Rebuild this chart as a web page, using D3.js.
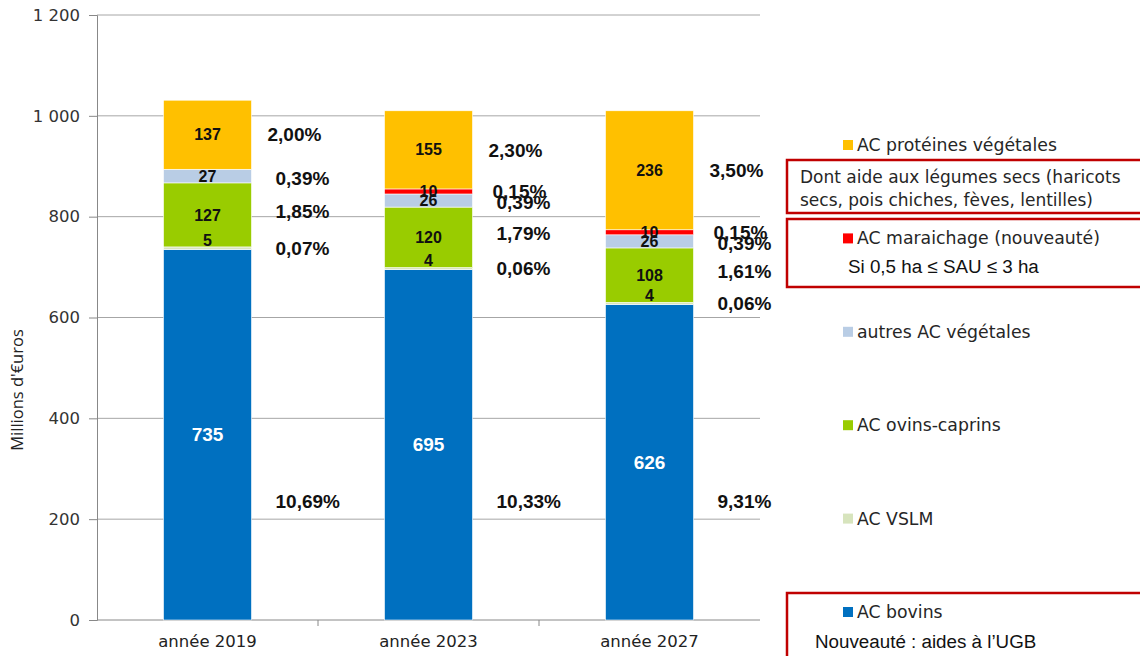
<!DOCTYPE html>
<html>
<head>
<meta charset="utf-8">
<script src="https://cdn.jsdelivr.net/npm/d3@7"></script>
<style>
  body { margin: 0; background: #fff; }
  svg { display: block; }
</style>
</head>
<body>
<div id="chart"></div>
<script>
// categories and series
const years = ["année 2019", "année 2023", "année 2027"];
const seriesNames = ["AC bovins", "AC VSLM", "AC ovins-caprins", "autres AC végétales", "AC maraichage (nouveauté)", "AC protéines végétales"];
const seriesColors = ["#0070C0", "#D7E4BD", "#99CC00", "#B9CDE5", "#FF0000", "#FFC000"];

const bovins = [735, 695, 626];
const vslm = [5, 4, 4];
const ovins = [127, 120, 108];
const autres = [27, 26, 26];
const maraichage = [0, 10, 10];
const proteines = [137, 155, 236];

// percentages written beside the bars
const bovinsPct = ["10,69%", "10,33%", "9,31%"];
const vslmPct = ["0,07%", "0,06%", "0,06%"];
const ovinsPct = ["1,85%", "1,79%", "1,61%"];
const autresPct = ["0,39%", "0,39%", "0,39%"];
const maraichagePct = [null, "0,15%", "0,15%"];
const proteinesPct = ["2,00%", "2,30%", "3,50%"];

const yTicks = [0, 200, 400, 600, 800, 1000, 1200];

const allValues = [bovins, vslm, ovins, autres, maraichage, proteines];
const allPct = [bovinsPct, vslmPct, ovinsPct, autresPct, maraichagePct, proteinesPct];

const W = 1140, H = 656;
const plotL = 97, plotR = 760, plotT = 15, plotB = 620;

const svg = d3.select("#chart").append("svg").attr("width", W).attr("height", H);

const x = d3.scaleBand().domain(years).range([plotL, plotR]).paddingInner(0).paddingOuter(0);
const y = d3.scaleLinear().domain([0, 1200]).range([plotB, plotT]);
const barW = 88;

// table for d3.stack
const rows = years.map((yr, i) => {
  const r = { year: yr };
  seriesNames.forEach((s, k) => r[s] = allValues[k][i]);
  return r;
});
const stacked = d3.stack().keys(seriesNames)(rows);

// gridlines
svg.append("g").selectAll("line").data(yTicks.filter(d => d > 0)).enter().append("line")
  .attr("x1", plotL).attr("x2", plotR)
  .attr("y1", d => y(d)).attr("y2", d => y(d))
  .attr("stroke", "#a6a6a6").attr("stroke-width", 1);

// y axis
const fmt = d3.format(",");
const yAxis = svg.append("g").attr("transform", "translate(" + plotL + ",0)")
  .call(d3.axisLeft(y).tickValues(yTicks).tickSize(8).tickPadding(9).tickFormat(d => fmt(d).replace(",", " ")));
yAxis.select(".domain").attr("stroke", "#888");
yAxis.selectAll(".tick line").attr("stroke", "#888");
yAxis.selectAll("text").attr("font-family", "DejaVu Sans, Verdana, sans-serif").attr("font-size", 16.5).attr("fill", "#333");

// x axis
const xAxis = svg.append("g").attr("transform", "translate(0," + plotB + ")");
xAxis.append("line").attr("x1", plotL).attr("x2", plotR).attr("stroke", "#888");
xAxis.selectAll(".sep").data(years.slice(1)).enter().append("line")
  .attr("x1", d => x(d)).attr("x2", d => x(d)).attr("y1", 0).attr("y2", 6).attr("stroke", "#888");
xAxis.selectAll(".lab").data(years).enter().append("text")
  .attr("x", d => x(d) + x.bandwidth() / 2).attr("y", 27)
  .attr("text-anchor", "middle")
  .attr("font-family", "DejaVu Sans, Tahoma, sans-serif").attr("font-size", 16.5).attr("fill", "#222")
  .text(d => d);

// y title
svg.append("text")
  .attr("transform", "translate(23,390) rotate(-90)")
  .attr("text-anchor", "middle")
  .attr("font-family", "Open Sans, Liberation Sans, sans-serif").attr("font-size", 16.5).attr("fill", "#222")
  .text("Millions d'€uros");

// bars
stacked.forEach((layer, k) => {
  svg.append("g").selectAll("rect").data(layer).enter().append("rect")
    .attr("x", d => x(d.data.year) + (x.bandwidth() - barW) / 2)
    .attr("width", barW)
    .attr("y", d => y(d[1]))
    .attr("height", d => y(d[0]) - y(d[1]))
    .attr("fill", seriesColors[k])
    .attr("stroke", "#fff").attr("stroke-width", 0.6);
});

// value labels inside the bars
stacked.forEach((layer, k) => {
  svg.append("g").selectAll("text").data(layer.filter(d => d[1] - d[0] > 0)).enter().append("text")
    .attr("x", d => x(d.data.year) + x.bandwidth() / 2)
    .attr("y", d => y((d[0] + d[1]) / 2) - ((d[1] - d[0]) < 8 ? 8 : 0))
    .attr("dy", "0.35em")
    .attr("text-anchor", "middle")
    .attr("font-family", "Liberation Sans, Arial, sans-serif").attr("font-weight", "bold")
    .attr("font-size", k === 0 ? 19 : 16)
    .attr("fill", k === 0 ? "#fff" : "#111")
    .text(d => d[1] - d[0]);
});

// percentage labels to the right of the bars
stacked.forEach((layer, k) => {
  svg.append("g").selectAll("text").data(layer.filter((d, i) => allPct[k][i])).enter().append("text")
    .attr("x", d => x(d.data.year) + (x.bandwidth() + barW) / 2 + (k === 5 ? 16 : (k === 4 ? 20 : 24)))
    .attr("y", d => k === 0 ? y(235) : y((d[0] + d[1]) / 2) + (k === 2 ? -4 : (k === 3 ? 2 : 0)))
    .attr("dy", "0.35em")
    .attr("font-family", "Liberation Sans, Arial, sans-serif").attr("font-weight", "bold")
    .attr("font-size", 19).attr("fill", "#111")
    .text(d => allPct[k][years.indexOf(d.data.year)]);
});

// legend (top to bottom: reverse of stack order)
const legendOrder = seriesNames.map((s, k) => k).reverse();
const lg = svg.append("g");
legendOrder.forEach((k, i) => {
  const ly = 145 + i * 93.4;
  lg.append("rect").attr("x", 843).attr("y", ly - 5).attr("width", 10).attr("height", 10).attr("fill", seriesColors[k]);
  lg.append("text").attr("x", 857).attr("y", ly).attr("dy", "0.35em")
    .attr("font-family", "DejaVu Sans, Verdana, sans-serif").attr("font-size", 17.3).attr("fill", "#262626")
    .text(seriesNames[k]);
});

// red annotation boxes
const boxes = [[787, 160, 53], [787, 219, 68], [787, 593, 80]];
boxes.forEach(b => {
  lg.append("rect").attr("x", b[0]).attr("y", b[1]).attr("width", 400).attr("height", b[2])
    .attr("fill", "none").attr("stroke", "#C00000").attr("stroke-width", 2.5);
});
lg.append("text").attr("x", 800).attr("y", 183)
  .attr("font-family", "DejaVu Sans, Verdana, sans-serif").attr("font-size", 17).attr("fill", "#262626")
  .text("Dont aide aux légumes secs (haricots");
lg.append("text").attr("x", 800).attr("y", 206)
  .attr("font-family", "DejaVu Sans, Verdana, sans-serif").attr("font-size", 17).attr("fill", "#262626")
  .text("secs, pois chiches, fèves, lentilles)");
lg.append("text").attr("x", 848).attr("y", 273)
  .attr("font-family", "Liberation Sans, Arial, sans-serif").attr("font-size", 18.8).attr("fill", "#111")
  .text("Si 0,5 ha ≤ SAU ≤ 3 ha");
lg.append("text").attr("x", 815).attr("y", 648)
  .attr("font-family", "Liberation Sans, Arial, sans-serif").attr("font-size", 18.8).attr("fill", "#111")
  .text("Nouveauté : aides à l’UGB");
</script>
</body>
</html>
